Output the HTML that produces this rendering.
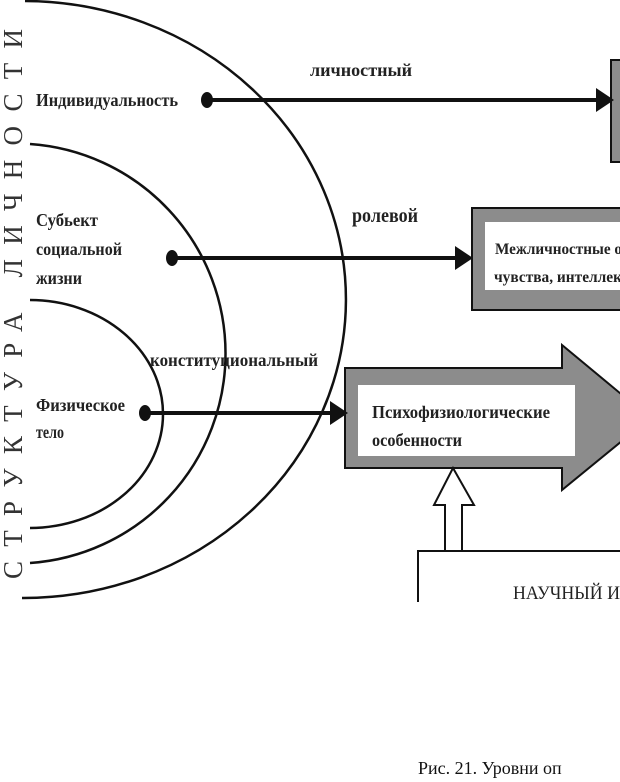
<!DOCTYPE html>
<html><head><meta charset="utf-8"><style>
body{margin:0;background:#fff}
svg{display:block}
text{font-family:"Liberation Serif",serif;fill:#222}
.c{font-size:18px;font-weight:bold}
</style></head><body>
<svg width="620" height="782" viewBox="0 0 620 782" xmlns="http://www.w3.org/2000/svg">
<g fill="none" stroke="#111" stroke-width="2.5">
<path d="M25 1 A322 298 0 0 1 22 598"/>
<path d="M30 144 A210 210 0 0 1 30 563"/>
<path d="M30 300 A133 114 0 0 1 30 528"/>
</g>
<text transform="translate(22,579) rotate(-90)" textLength="550" lengthAdjust="spacing" style="font-size:27px;fill:#333">СТРУКТУРА ЛИЧНОСТИ</text>
<!-- top box -->
<rect x="611" y="60" width="12" height="102" fill="#8c8c8c" stroke="#111" stroke-width="2"/>
<!-- second box -->
<rect x="472" y="208" width="152" height="102" fill="#8c8c8c" stroke="#111" stroke-width="2"/>
<rect x="485" y="222" width="140" height="68" fill="#fff"/>
<text class="c" x="495" y="254" textLength="127" lengthAdjust="spacingAndGlyphs" style="font-size:16px">Межличностные о</text>
<text class="c" x="494" y="282" textLength="128" lengthAdjust="spacingAndGlyphs" style="font-size:16px">чувства, интеллек</text>
<!-- big arrow -->
<path d="M345 368 H562 V345 L650 418 L562 490 V468 H345 Z" fill="#8c8c8c" stroke="#111" stroke-width="2"/>
<rect x="358" y="385" width="217" height="71" fill="#fff"/>
<text class="c" x="372" y="418" textLength="178" lengthAdjust="spacingAndGlyphs">Психофизиологические</text>
<text class="c" x="372" y="446" textLength="90" lengthAdjust="spacingAndGlyphs">особенности</text>
<!-- hollow arrow -->
<path d="M445 551 V505 H434 L453 468 L474 505 H462 V551" fill="#fff" stroke="#111" stroke-width="2"/>
<rect x="418" y="551" width="210" height="60" fill="#fff" stroke="#111" stroke-width="2"/>
<rect x="0" y="602" width="620" height="20" fill="#fff"/>
<text x="513" y="599" textLength="107" lengthAdjust="spacingAndGlyphs" style="font-size:19px">НАУЧНЫЙ И</text>
<!-- connectors -->
<g stroke="#111" stroke-width="4"><line x1="207" y1="100" x2="598" y2="100"/><line x1="172" y1="258" x2="455" y2="258"/><line x1="145" y1="413" x2="332" y2="413"/></g>
<g fill="#111">
<ellipse cx="207" cy="100" rx="6" ry="8"/><ellipse cx="172" cy="258" rx="6" ry="8"/><ellipse cx="145" cy="413" rx="6" ry="8"/>
<path d="M596 88 L614 100 L596 112Z"/><path d="M455 246 L473 258 L455 270Z"/><path d="M330 401 L348 413 L330 425Z"/>
</g>
<!-- labels -->
<text class="c" x="310" y="76" textLength="102" lengthAdjust="spacingAndGlyphs">личностный</text>
<text class="c" x="36" y="106" textLength="142" lengthAdjust="spacingAndGlyphs">Индивидуальность</text>
<text class="c" x="352" y="222" textLength="66" lengthAdjust="spacingAndGlyphs" style="font-size:20px">ролевой</text>
<text class="c" x="36" y="226" textLength="62" lengthAdjust="spacingAndGlyphs">Субьект</text>
<text class="c" x="36" y="255" textLength="86" lengthAdjust="spacingAndGlyphs">социальной</text>
<text class="c" x="36" y="284" textLength="46" lengthAdjust="spacingAndGlyphs">жизни</text>
<text class="c" x="150" y="366" textLength="168" lengthAdjust="spacingAndGlyphs">конституциональный</text>
<text class="c" x="36" y="411" textLength="89" lengthAdjust="spacingAndGlyphs">Физическое</text>
<text class="c" x="36" y="438" textLength="28" lengthAdjust="spacingAndGlyphs">тело</text>
<text x="418" y="774" style="font-size:18px;fill:#111">Рис. 21. Уровни оп</text>
</svg>
</body></html>
